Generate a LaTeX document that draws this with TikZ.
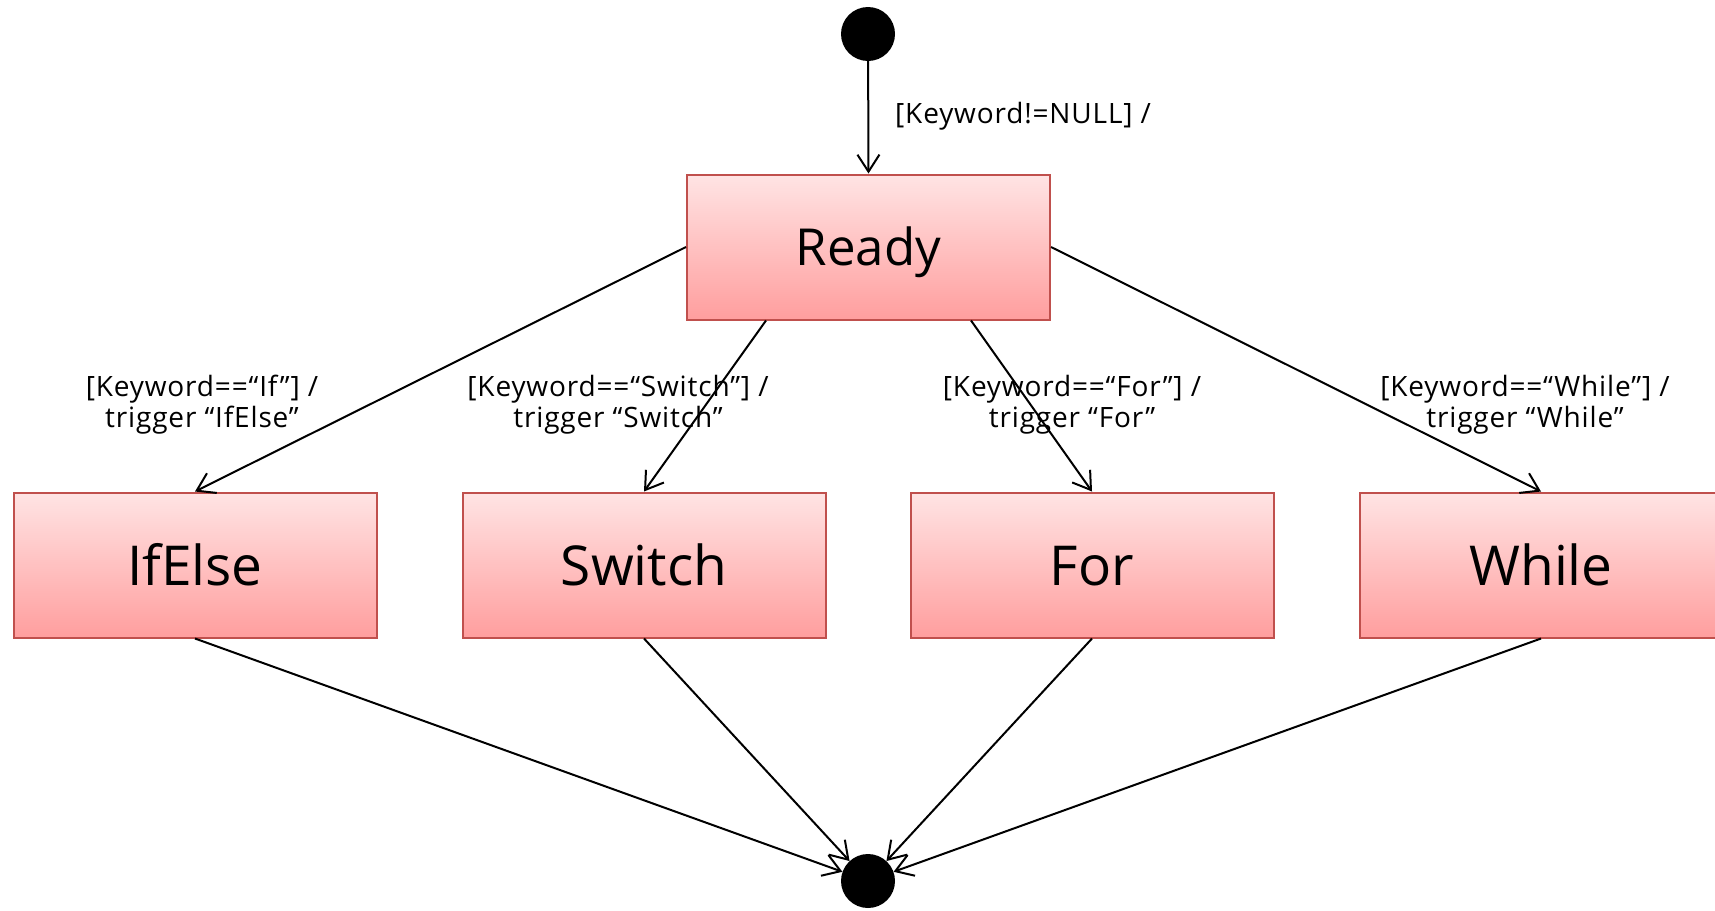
\documentclass[tikz,border=0pt]{standalone}
\usepackage{fontspec}
\setmainfont{Open Sans}
\newfontfamily\lblfont[LetterSpace=3]{Open Sans}
\usetikzlibrary{arrows.meta,calc}
\definecolor{boxtop}{RGB}{255,228,228}
\definecolor{boxbot}{RGB}{255,158,158}
\definecolor{boxline}{RGB}{192,80,77}
\tikzset{
  statebox/.style={rectangle, draw=boxline, line width=2pt, top color=boxtop, bottom color=boxbot,
    minimum width=363pt, minimum height=145pt, inner sep=0pt},
  toprow/.style={statebox, font=\fontsize{51}{60}\selectfont, text height=37pt, text depth=0pt},
  lowrow/.style={statebox, font=\fontsize{55}{64}\selectfont, text height=40pt, text depth=0pt},
  dot/.style={circle, fill=black, minimum size=54pt, inner sep=0pt},
  conn/.style={line width=2pt, -{Straight Barb[length=17pt,width=22pt,line width=2pt]}},
  lbl/.style={font=\lblfont\fontsize{28}{31}\selectfont, align=center, inner sep=0pt}
}
\begin{document}
\begin{tikzpicture}[x=1pt,y=-1pt]
\useasboundingbox (0,0) rectangle (1715,910);
\node[dot] (init) at (868,34) {};
\node[toprow] (ready) at (868.5,247) {Ready};
\node[lowrow] (ifelse) at (195,565) {IfElse};
\node[lowrow] (switch) at (644,565) {Switch};
\node[lowrow] (for) at (1092,565) {For};
\node[lowrow] (while) at (1541,565) {While};
\node[dot] (final) at (868,881) {};

\draw[conn] (init) -- (ready.north);
\draw[conn] (ready.west) -- (ifelse.north);
\draw[conn] ([xshift=-102.5pt]ready.south) -- (switch.north);
\draw[conn] ([xshift=102.5pt]ready.south) -- (for.north);
\draw[conn] (ready.east) -- (while.north);

\draw[conn] (ifelse.south) -- (final);
\draw[conn] (switch.south) -- (final);
\draw[conn] (for.south) -- (final);
\draw[conn] (while.south) -- (final);

\node[lbl, anchor=base west] (lnull) at (895,123) {[Keyword!=NULL] /};
\node[lbl] (lif) at (202,405) {[Keyword==“If”] /\\trigger “IfElse”};
\node[lbl] (lswitch) at (618,405) {[Keyword==“Switch”] /\\trigger “Switch”};
\node[lbl] (lfor) at (1072,405) {[Keyword==“For”] /\\trigger “For”};
\node[lbl] (lwhile) at (1525,405) {[Keyword==“While”] /\\trigger “While”};
\end{tikzpicture}
\end{document}
